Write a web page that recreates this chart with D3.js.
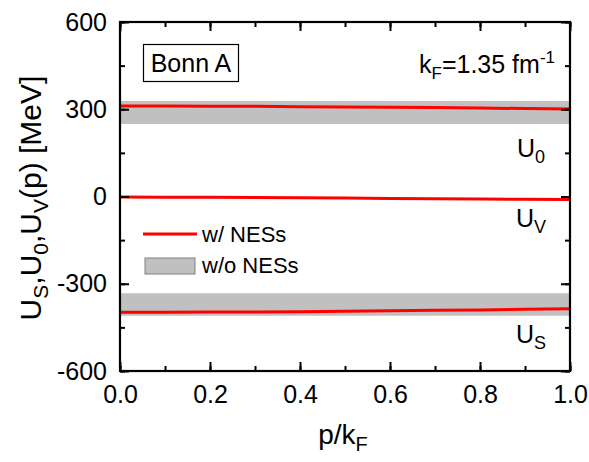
<!DOCTYPE html>
<html><head><meta charset="utf-8">
<script src="https://cdn.jsdelivr.net/npm/d3@7"></script>
<style>body{margin:0;background:#fff}svg{display:block}text{font-family:"Liberation Sans",Arial,sans-serif;fill:#000}</style>
</head><body><svg id="c" width="589" height="462"></svg>
<script>
const pGrid = [0.0, 0.1, 0.2, 0.3, 0.4, 0.5, 0.6, 0.7, 0.8, 0.9, 1.0];
const u0With = [311, 311, 310.5, 310, 309, 308, 307, 306, 304, 302.5, 301];
const uvWith = [-2, -2.5, -3, -3.5, -4.5, -5.5, -6.5, -7.5, -8.5, -9.5, -10];
const usWith = [-398, -398, -397.5, -397, -396, -394.5, -393, -391.5, -390, -388, -386];
const u0BandLow = [249, 249, 249, 249, 249, 249, 249, 249, 249, 249, 249];
const u0BandHigh = [328, 328, 328, 328, 328, 328, 328, 328, 328, 328, 328];
const usBandLow = [-410, -410, -410, -410, -410, -410, -410, -410, -410, -410, -410];
const usBandHigh = [-333, -333, -333, -333, -333, -333, -333, -333, -333, -333, -333];
const xTicks = [0.0, 0.2, 0.4, 0.6, 0.8, 1.0];
const yTicks = [-600, -300, 0, 300, 600];

const svg = d3.select("#c");
const L = 120, R = 570, T = 22, B = 371;
const x = d3.scaleLinear().domain([0, 1]).range([L, R]);
const y = d3.scaleLinear().domain([-600, 600]).range([B, T]);

const gray = "#c0c0c0";
const area = (lo, hi) => d3.area().x((d, i) => x(pGrid[i])).y0((d, i) => y(lo[i])).y1((d, i) => y(hi[i]));
svg.append("path").datum(pGrid).attr("d", area(u0BandLow, u0BandHigh)).attr("fill", gray);
svg.append("path").datum(pGrid).attr("d", area(usBandLow, usBandHigh)).attr("fill", gray);

const line = vals => d3.line().x((d, i) => x(pGrid[i])).y((d, i) => y(vals[i]));
[u0With, uvWith, usWith].forEach(v => {
  svg.append("path").datum(pGrid).attr("d", line(v)).attr("fill", "none").attr("stroke", "#ff0000").attr("stroke-width", 3);
});

// axes
const minorX = d3.range(0, 1.0001, 0.1);
const minorY = d3.range(-600, 601, 150);
const fmtY = d => String(d);
svg.append("g").attr("transform", `translate(0,${B})`).call(d3.axisBottom(x).tickValues(minorX).tickSize(-5).tickFormat(""));
svg.append("g").attr("transform", `translate(0,${B})`).call(d3.axisBottom(x).tickValues(xTicks).tickSize(-9).tickPadding(14).tickFormat(d3.format(".1f")));
svg.append("g").attr("transform", `translate(0,${T})`).call(d3.axisTop(x).tickValues(minorX).tickSize(-5).tickFormat(""));
svg.append("g").attr("transform", `translate(0,${T})`).call(d3.axisTop(x).tickValues(xTicks).tickSize(-9).tickFormat(""));
svg.append("g").attr("transform", `translate(${L},0)`).call(d3.axisLeft(y).tickValues(minorY).tickSize(-5).tickFormat(""));
svg.append("g").attr("transform", `translate(${L},0)`).call(d3.axisLeft(y).tickValues(yTicks).tickSize(-9).tickPadding(13).tickFormat(fmtY));
svg.append("g").attr("transform", `translate(${R},0)`).call(d3.axisRight(y).tickValues(minorY).tickSize(-5).tickFormat(""));
svg.append("g").attr("transform", `translate(${R},0)`).call(d3.axisRight(y).tickValues(yTicks).tickSize(-9).tickFormat(""));
svg.selectAll(".domain").remove();
svg.selectAll(".tick line").attr("stroke", "#000").attr("stroke-width", 2);
svg.selectAll(".tick text").attr("font-size", 25).attr("font-family", "Liberation Sans, Arial, sans-serif").attr("fill", "#000");
svg.append("rect").attr("x", L).attr("y", T).attr("width", R - L).attr("height", B - T).attr("fill", "none").attr("stroke", "#000").attr("stroke-width", 2.2);

// Bonn A box
svg.append("rect").attr("x", 143.5).attr("y", 44.5).attr("width", 95).attr("height", 37).attr("fill", "none").attr("stroke", "#000").attr("stroke-width", 1.2);
svg.append("text").attr("x", 191).attr("y", 72).attr("text-anchor", "middle").attr("font-size", 25).text("Bonn A");

// kF label
const kf = svg.append("text").attr("x", 555).attr("y", 73).attr("text-anchor", "end").attr("font-size", 25);
kf.append("tspan").text("k");
kf.append("tspan").attr("font-size", 17).attr("dy", 6).text("F");
kf.append("tspan").attr("dy", -6).text("=1.35 fm");
kf.append("tspan").attr("font-size", 17).attr("dy", -10).text("-1");

// U labels
function uLabel(xp, yp, sub) {
  const t = svg.append("text").attr("x", xp).attr("y", yp).attr("font-size", 25);
  t.append("tspan").text("U");
  t.append("tspan").attr("font-size", 18).attr("dy", 6).text(sub);
}
uLabel(517, 157, "0");
uLabel(516, 227, "V");
uLabel(516, 343, "S");

// legend
svg.append("line").attr("x1", 143).attr("x2", 197).attr("y1", 234).attr("y2", 234).attr("stroke", "#ff0000").attr("stroke-width", 3);
svg.append("text").attr("x", 202).attr("y", 242).attr("font-size", 22).text("w/ NESs");
svg.append("rect").attr("x", 145).attr("y", 258).attr("width", 50).attr("height", 16).attr("fill", gray).attr("stroke", "#808080").attr("stroke-width", 1);
svg.append("text").attr("x", 202).attr("y", 273).attr("font-size", 22).text("w/o NESs");

// x title
const xt = svg.append("text").attr("x", 343).attr("y", 444).attr("text-anchor", "middle").attr("font-size", 28);
xt.append("tspan").text("p/k");
xt.append("tspan").attr("font-size", 20).attr("dy", 7).text("F");

// y title
const yt = svg.append("text").attr("transform", "translate(41,198) rotate(-90)").attr("text-anchor", "middle").attr("font-size", 30);
yt.append("tspan").text("U");
yt.append("tspan").attr("font-size", 21).attr("dy", 7).text("S");
yt.append("tspan").attr("dy", -7).text(",U");
yt.append("tspan").attr("font-size", 21).attr("dy", 7).text("0");
yt.append("tspan").attr("dy", -7).text(",U");
yt.append("tspan").attr("font-size", 21).attr("dy", 7).text("V");
yt.append("tspan").attr("dy", -7).text("(p) [MeV]");
</script></body></html>
